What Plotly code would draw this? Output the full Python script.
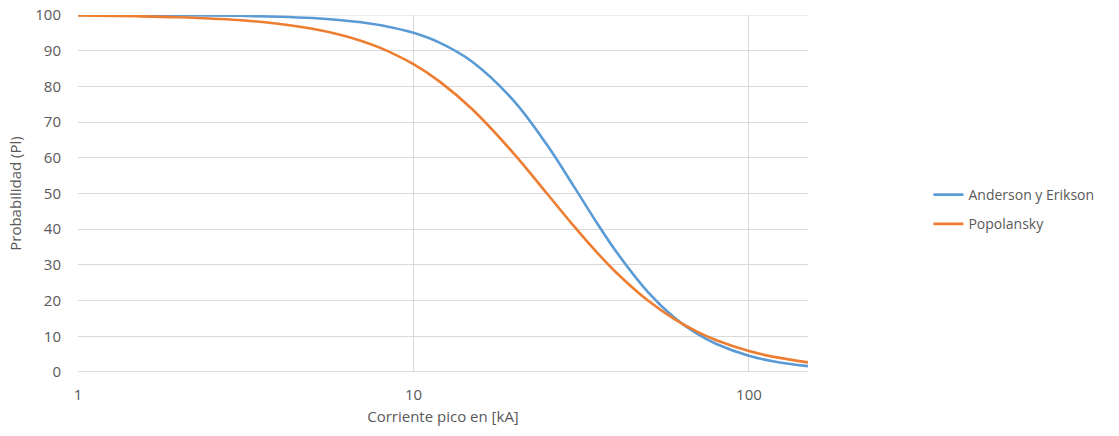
import plotly.graph_objects as go

corriente = [1, 1.5, 2, 3, 4, 5, 6, 7, 8, 10, 12, 15, 20, 25, 30, 35, 40, 50, 60, 70, 80, 100, 120, 150]
anderson = [99.99, 99.96, 99.92, 99.77, 99.52, 99.14, 98.62, 97.95, 97.13, 95.0, 92.18, 86.84,
            75.76, 63.63, 52.13, 42.18, 34.01, 22.40, 15.23, 10.74, 7.84, 4.54, 2.88, 1.63]
popolansky = [99.84, 99.64, 99.36, 98.58, 97.50, 96.15, 94.55, 92.73, 90.71, 86.21, 81.27, 73.53,
              60.98, 50.0, 40.98, 33.78, 28.09, 20.0, 14.79, 11.31, 8.90, 5.88, 4.16, 2.70]
x_ticks = [1, 10, 100]
y_ticks = [0, 10, 20, 30, 40, 50, 60, 70, 80, 90, 100]

fig = go.Figure()
fig.add_trace(go.Scatter(x=corriente, y=anderson, mode="lines", name="Anderson y Erikson",
                         legendgroup="a",
                         line=dict(color="#5B9BD5", width=2.6, shape="spline")))
fig.add_trace(go.Scatter(x=corriente, y=popolansky, mode="lines", name="Popolansky",
                         legendgroup="b",
                         line=dict(color="#ED7D31", width=2.6, shape="spline")))

font_family = "Open Sans, Liberation Sans, sans-serif"
fig.update_layout(
    width=1119, height=436,
    margin=dict(l=78, r=311, t=15, b=64, autoexpand=False),
    paper_bgcolor="white", plot_bgcolor="white",
    font=dict(family=font_family, color="#595959", size=15),
    showlegend=True,
    legend=dict(x=1.165, y=0.455, xanchor="left", yanchor="middle",
                font=dict(size=14, color="#595959"), tracegroupgap=8, itemwidth=30,
                traceorder="grouped", bgcolor="rgba(0,0,0,0)"),
    xaxis=dict(type="log", range=[0, 2.1761], tickvals=x_ticks, ticktext=[str(v) for v in x_ticks],
               showgrid=True, gridcolor="#D9D9D9", gridwidth=1, zeroline=False, automargin=False,
               showline=False, ticks="", ticklabelstandoff=12, ticklabeloverflow="allow",
               title=dict(text="Corriente pico en [kA]", font=dict(size=15, color="#595959"), standoff=8)),
    yaxis=dict(range=[0, 100], tickvals=y_ticks, showgrid=True, gridcolor="#D9D9D9", gridwidth=1,
               zeroline=False, showline=False, ticks="", ticklabelstandoff=16, automargin=False,
               ticklabeloverflow="allow",
               title=dict(text="Probabilidad (Pl)", font=dict(size=15, color="#595959"), standoff=10)),
)
fig.add_shape(type="line", xref="paper", yref="y", x0=0, x1=1, y0=0, y1=0,
              line=dict(color="#D0D0D0", width=1.5))
fig.add_shape(type="line", xref="paper", yref="y", x0=0, x1=1, y0=100, y1=100, layer="below",
              line=dict(color="#D9D9D9", width=1))

fig.write_html("out.html", config={"displayModeBar": False},
               post_script="document.body.style.margin='0';")
